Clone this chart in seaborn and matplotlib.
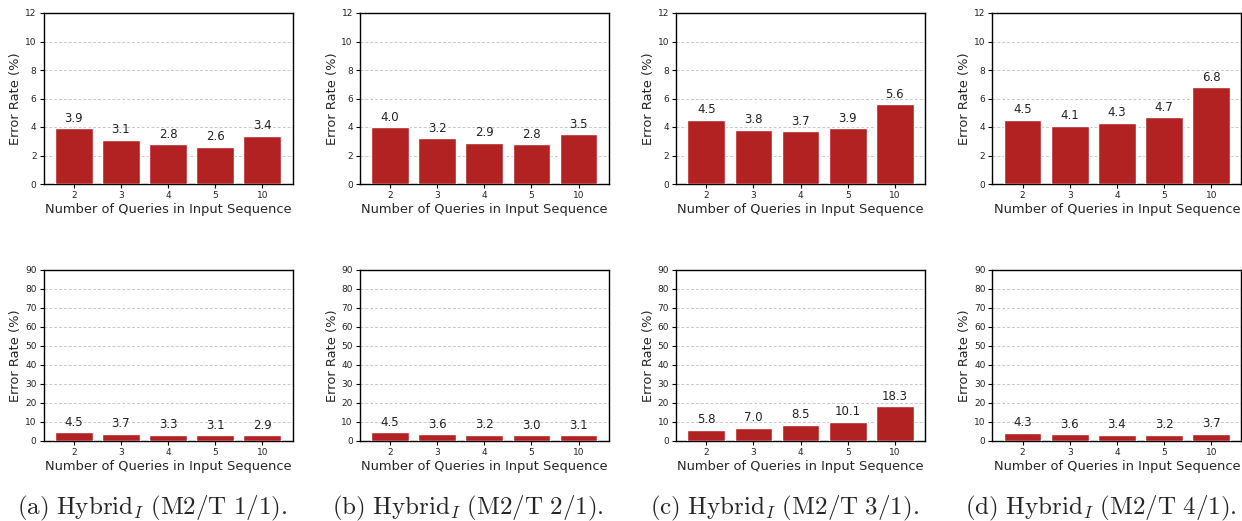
import matplotlib
matplotlib.use("Agg")
import matplotlib.pyplot as plt
import seaborn as sns
import pandas as pd

sns.set_theme(style="white")
plt.rcParams["font.family"] = ["DejaVu Sans"]
plt.rcParams["mathtext.fontset"] = "cm"

queries = ["2", "3", "4", "5", "10"]

# top row: error rates (%), y-range 0-12
top_a = [3.9, 3.1, 2.8, 2.6, 3.4]
top_b = [4.0, 3.2, 2.9, 2.8, 3.5]
top_c = [4.5, 3.8, 3.7, 3.9, 5.6]
top_d = [4.5, 4.1, 4.3, 4.7, 6.8]

# bottom row: error rates (%), y-range 0-90
bot_a = [4.5, 3.7, 3.3, 3.1, 2.9]
bot_b = [4.5, 3.6, 3.2, 3.0, 3.1]
bot_c = [5.8, 7.0, 8.5, 10.1, 18.3]
bot_d = [4.3, 3.6, 3.4, 3.2, 3.7]

captions = [
    r"$\mathrm{(a)\ Hybrid}_I\ \mathrm{(M2/T\ 1/1).}$",
    r"$\mathrm{(b)\ Hybrid}_I\ \mathrm{(M2/T\ 2/1).}$",
    r"$\mathrm{(c)\ Hybrid}_I\ \mathrm{(M2/T\ 3/1).}$",
    r"$\mathrm{(d)\ Hybrid}_I\ \mathrm{(M2/T\ 4/1).}$",
]

top_rows = [top_a, top_b, top_c, top_d]
bot_rows = [bot_a, bot_b, bot_c, bot_d]

W, H = 1242, 521
fig = plt.figure(figsize=(W / 100, H / 100), dpi=100)

bar_color = "#B22222"


def draw_panel(ax, values, ymax, step):
    df = pd.DataFrame({"q": queries, "err": values})
    sns.barplot(data=df, x="q", y="err", color=bar_color, width=0.8,
                saturation=1, ax=ax, zorder=3)
    ax.set_xlim(-0.64, 4.64)
    ax.set_ylim(0, ymax)
    ax.set_yticks(range(0, ymax + 1, step))
    ax.grid(axis="y", linestyle=(0, (3, 2)), color="#c8c8c8", linewidth=0.7,
            zorder=0)
    ax.set_axisbelow(True)
    for s in ax.spines.values():
        s.set_visible(True)
        s.set_color("black")
        s.set_linewidth(1.0)
    ax.tick_params(axis="both", labelsize=6.5, length=3, width=0.8,
                   color="black", labelcolor="#222222", left=True,
                   bottom=True, pad=2)
    ax.set_xlabel("Number of Queries in Input Sequence", fontsize=9.4,
                  labelpad=2)
    ax.set_ylabel("Error Rate (%)", fontsize=9.4, labelpad=2)
    for p, v in zip(ax.patches, values):
        ax.annotate(f"{v:.1f}", (p.get_x() + p.get_width() / 2, v),
                    xytext=(0, 2.5), textcoords="offset points",
                    ha="center", va="bottom", fontsize=8.5, color="#222222")


left0 = 43.5 / W
step_x = 316.3 / W
aw = 249 / W
top_y = 1 - 184 / H
top_h = (184 - 13) / H
bot_y = 1 - 441 / H
bot_h = (441 - 269.5) / H

for i in range(4):
    x0 = left0 + i * step_x
    ax_t = fig.add_axes([x0, top_y, aw, top_h])
    draw_panel(ax_t, top_rows[i], 12, 2)
    ax_b = fig.add_axes([x0, bot_y, aw, bot_h])
    draw_panel(ax_b, bot_rows[i], 90, 10)
    fig.text(x0 + aw / 2 - 16 / W, 1 - 508 / H, captions[i], ha="center",
             va="center", fontsize=18)

fig.savefig("out.png", dpi=100)
